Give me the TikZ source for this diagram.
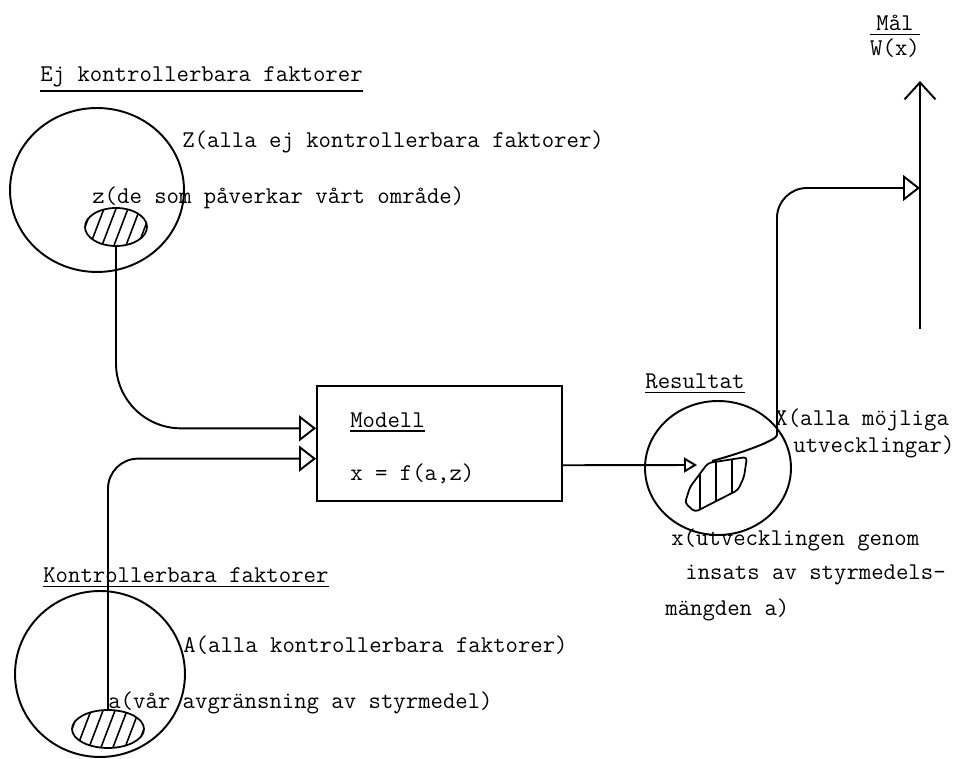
\documentclass[tikz,border=0pt]{standalone}
\usepackage{fontspec}
\usepackage{tikz}
\usetikzlibrary{shapes.geometric,arrows.meta,calc,positioning}

\tikzset{
  txt/.style={font=\fontsize{13.7pt}{16pt}\selectfont\ttfamily\addfontfeatures{FakeBold=0.6}, inner sep=0pt, anchor=west},
  krets/.style={draw, ellipse, line width=1.1pt, inner sep=0pt},
  blob/.style={draw, ellipse, line width=1pt, inner sep=0pt},
  conn/.style={line width=1.1pt},
  inpil/.style={-{Triangle[open,length=0.34cm,width=0.52cm]}},
}

\begin{document}
\begin{tikzpicture}[x=0.02cm, y=-0.02cm]
\useasboundingbox (0,0) rectangle (965,759);
%
% ej kontrollerbara
\node[txt] (ejtit) at (40,77) {Ej kontrollerbara faktorer};
\draw[line width=0.9pt] ([yshift=-2pt]ejtit.south west) -- ([yshift=-2pt]ejtit.south east);
\node[krets, minimum width=3.48cm, minimum height=3.28cm] (Z) at (97,190) {};
\node[txt] (Ztxt) at (182,142) {Z(alla ej kontrollerbara faktorer)};
\node[txt] (ztxt) at (92,198) {z(de som påverkar vårt område)};
\node[blob, minimum width=1.24cm, minimum height=0.76cm, path picture={
  \foreach \d in {-8,4,...,64}
    \draw[line width=0.9pt] ($(path picture bounding box.south west)+(\d,2)$) -- ++(16,-42);
  }] (zblob) at (116,227) {};
%
% kontrollerbara
\node[txt] (ktit) at (43,575) {Kontrollerbara faktorer};
\draw[line width=0.9pt] ([yshift=-2pt]ktit.south west) -- ([yshift=-2pt]ktit.south east);
\node[krets, minimum width=3.4cm, minimum height=3.32cm] (A) at (100,674) {};
\node[txt] (Atxt) at (183,645) {A(alla kontrollerbara faktorer)};
\node[txt] (atxt) at (108,703) {a(vår avgränsning av styrmedel)};
\node[blob, minimum width=1.44cm, minimum height=0.76cm, path picture={
  \foreach \d in {-8,4,...,76}
    \draw[line width=0.9pt] ($(path picture bounding box.south west)+(\d,2)$) -- ++(16,-42);
  }] (ablob) at (108,729) {};
%
% modell
\node[draw, line width=1.1pt, minimum width=4.9cm, minimum height=2.3cm, inner sep=0pt] (modell) at (439.5,443.5) {};
\node[txt] (modtit) at (350,420) {Modell};
\draw[line width=0.9pt] ([yshift=-2pt]modtit.south west) -- ([yshift=-2pt]modtit.south east);
\node[txt] (fkn) at (350,474) {x = f(a,z)};
%
\draw[conn, inpil, rounded corners=1.3cm] (zblob.south) |- (modell.173);
\draw[conn, inpil, rounded corners=0.6cm] (ablob.north) |- (modell.187);
%
% resultat
\node[txt] (restit) at (645,381) {Resultat};
\draw[line width=0.9pt] ([yshift=-2pt]restit.south west) -- ([yshift=-2pt]restit.south east);
\node[krets, minimum width=2.92cm, minimum height=2.68cm] (res) at (718,468) {};
\draw[line width=1pt, rounded corners=2pt, path picture={
  \foreach \x in {700,716,732}
    \draw[line width=0.9pt] (\x,440) -- (\x,520);
  }] (708,463) -- (747,457) -- (744,477) -- (738,490) -- (695,512) -- (685,503) -- (690,487) -- cycle;
\coordinate (xin) at (697,465);
\coordinate (xut) at (712,461);
\draw[conn, -{Triangle[open,length=0.26cm,width=0.3cm]}] (modell.350) -- (xin);
\node[txt] (Xtxt) at (775,420) {X(alla möjliga};
\node[txt] (Xtxt2) at (793,447) {utvecklingar)};
\node[txt] (xtxt) at (671,540) {x(utvecklingen genom};
\node[txt] (xtxt2) at (685,575) {insats av styrmedels-};
\node[txt] (xtxt3) at (665,610) {mängden a)};
%
% mal
\coordinate (malbot) at (920,329);
\coordinate (maltop) at (920,81);
\coordinate (malin) at (920,188);
\draw[conn, -{Straight Barb[length=0.34cm,width=0.62cm]}] (malbot) -- (maltop);
\node[txt, anchor=south] (mal) at (895,31) {Mål};
\node[txt, anchor=north] (wx) at (895,38) {W(x)};
\draw[line width=0.9pt] ([yshift=2pt]wx.north west) -- ([yshift=2pt]wx.north east);
\draw[conn, inpil, rounded corners=0.6cm] (xut) .. controls (745,452) and (777,440) .. (777,405) |- (malin);
%
\end{tikzpicture}
\end{document}
